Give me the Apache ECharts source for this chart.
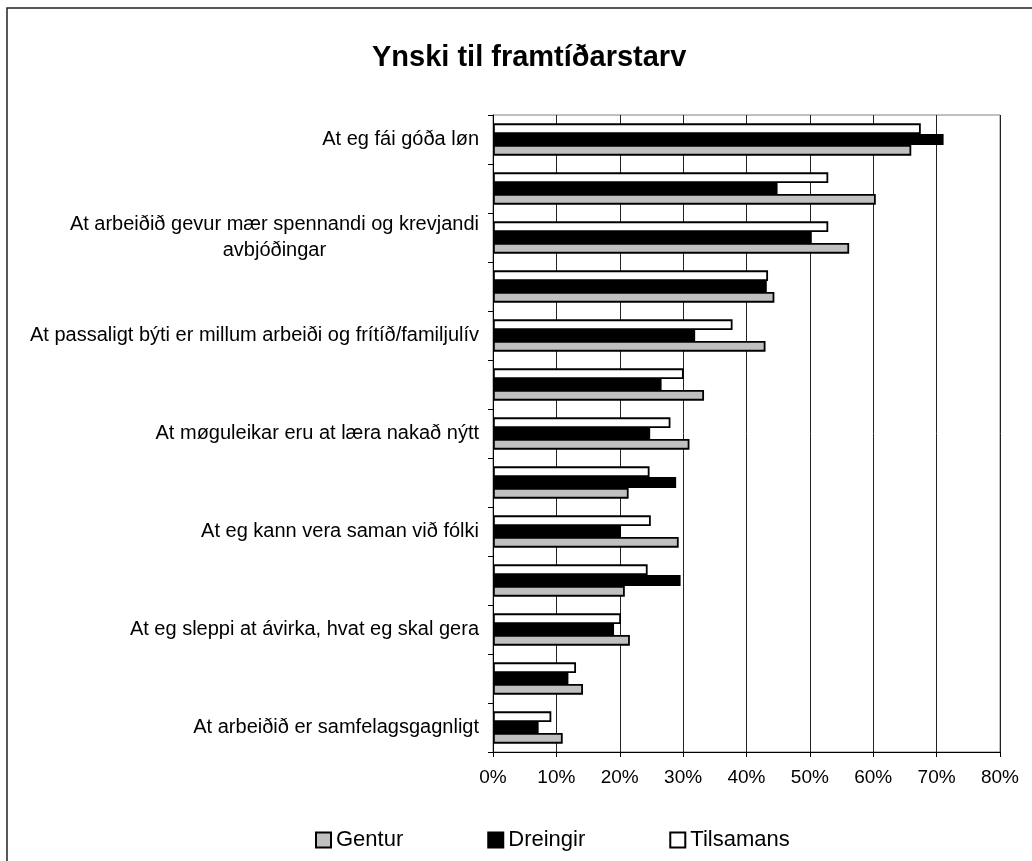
<!DOCTYPE html>
<html>
<head>
<meta charset="utf-8">
<title>Ynski til framtíðarstarv</title>
<script src="https://cdn.jsdelivr.net/npm/echarts@6/dist/echarts.min.js"></script>
<style>
    html, body { margin: 0; padding: 0; background: #fff; }
    #chart { width: 1032px; height: 861px; }
</style>
</head>
<body>
<div id="chart"></div>
<script>
// categories top to bottom, every other label is hidden in the original
const categories = [
    'At eg fái góða løn',
    '',
    'At arbeiðið gevur mær spennandi og krevjandi\navbjóðingar',
    '',
    'At passaligt býti er millum arbeiði og frítíð/familjulív',
    '',
    'At møguleikar eru at læra nakað nýtt',
    '',
    'At eg kann vera saman við fólki',
    '',
    'At eg sleppi at ávirka, hvat eg skal gera',
    '',
    'At arbeiðið er samfelagsgagnligt',
];

// values in percent
const gentur = [66.0, 60.4, 56.2, 44.4, 43.0, 33.3, 31.0, 21.4, 29.3, 20.8, 21.6, 14.2, 11.0];
const dreingir = [71.1, 44.9, 50.3, 43.2, 31.9, 26.6, 24.8, 28.9, 20.2, 29.6, 19.1, 11.9, 7.2];
const tilsamans = [67.5, 52.9, 52.9, 43.4, 37.8, 30.1, 28.0, 24.7, 24.9, 24.4, 20.2, 13.1, 9.2];

const xTicks = [0, 10, 20, 30, 40, 50, 60, 70, 80];

const font = "'Liberation Sans', Arial, sans-serif";

let chart = echarts.init(document.getElementById('chart'));

function barSeries(name, data, color) {
    return {
        name: name,
        type: 'bar',
        data: data,
        barGap: '0%',
        barCategoryGap: '34%',
        itemStyle: {
            color: color,
            borderColor: '#000',
            borderWidth: 1.8,
        },
        emphasis: { disabled: true },
    };
}

let option = {
    animation: false,
    backgroundColor: '#fff',
    textStyle: { fontFamily: font, color: '#000' },
    title: {
        text: 'Ynski til framtíðarstarv',
        left: 372,
        top: 43,
        padding: 0,
        textStyle: {
            fontFamily: font,
            fontSize: 29,
            fontWeight: 'bold',
            color: '#000',
        },
    },
    legend: {
        data: ['Gentur', 'Dreingir', 'Tilsamans'],
        left: 310,
        top: 824,
        itemWidth: 15,
        itemHeight: 15,
        itemGap: 84,
        icon: 'rect',
        textStyle: { fontFamily: font, fontSize: 22, color: '#000' },
    },
    grid: {
        left: 493,
        right: 32,
        top: 115,
        bottom: 109,
        show: true,
        borderColor: '#808080',
        borderWidth: 1,
    },
    xAxis: {
        type: 'value',
        min: xTicks[0],
        max: xTicks[xTicks.length - 1],
        interval: 10,
        axisLine: { show: true, lineStyle: { color: '#000', width: 1 } },
        axisTick: { show: true, length: 5, lineStyle: { color: '#000' } },
        splitLine: { show: true, lineStyle: { color: '#222', width: 1 } },
        axisLabel: {
            margin: 16,
            fontFamily: font,
            fontSize: 19,
            color: '#000',
            formatter: '{value}%',
        },
    },
    yAxis: {
        type: 'category',
        inverse: true,
        data: categories,
        axisLine: { show: true, lineStyle: { color: '#000', width: 1 } },
        axisTick: { show: true, interval: 0, length: 5, lineStyle: { color: '#000' } },
        axisLabel: {
            interval: 1,
            margin: 14,
            formatter: (value) =>
                value
                    .split('\n')
                    .map((line) => '{c|' + line + '}')
                    .join('\n'),
            rich: {
                c: {
                    align: 'center',
                    fontFamily: font,
                    fontSize: 20,
                    lineHeight: 26,
                    color: '#000',
                },
            },
        },
    },
    series: [
        barSeries('Tilsamans', tilsamans, '#ffffff'),
        barSeries('Dreingir', dreingir, '#000000'),
        barSeries('Gentur', gentur, '#c0c0c0'),
    ],
    graphic: [
        {
            // outer frame of the chart area
            type: 'rect',
            silent: true,
            shape: { x: 7, y: 8, width: 1100, height: 1000 },
            style: { fill: 'none', stroke: '#222', lineWidth: 1.5 },
        },
    ],
};
chart.setOption(option);
</script>
</body>
</html>
